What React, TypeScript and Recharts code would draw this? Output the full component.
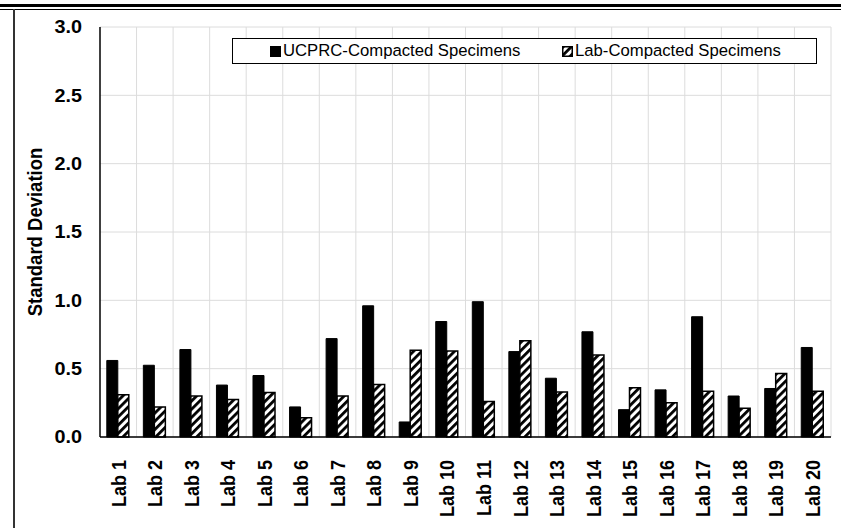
import React from 'react';
import { BarChart, Bar, XAxis, YAxis, CartesianGrid } from 'recharts';

const labs = ['Lab 1', 'Lab 2', 'Lab 3', 'Lab 4', 'Lab 5', 'Lab 6', 'Lab 7', 'Lab 8', 'Lab 9', 'Lab 10', 'Lab 11', 'Lab 12', 'Lab 13', 'Lab 14', 'Lab 15', 'Lab 16', 'Lab 17', 'Lab 18', 'Lab 19', 'Lab 20'];
const ucprcCompacted = [0.56, 0.525, 0.64, 0.38, 0.45, 0.22, 0.72, 0.96, 0.11, 0.845, 0.99, 0.625, 0.43, 0.77, 0.2, 0.345, 0.88, 0.3, 0.355, 0.655];
const labCompacted = [0.31, 0.22, 0.3, 0.275, 0.325, 0.14, 0.3, 0.385, 0.635, 0.63, 0.26, 0.705, 0.33, 0.6, 0.36, 0.25, 0.335, 0.21, 0.465, 0.335];
const yTicks = [0, 0.5, 1.0, 1.5, 2.0, 2.5, 3.0];
const seriesNames = ['UCPRC-Compacted Specimens', 'Lab-Compacted Specimens'];

const data = labs.map((lab, i) => ({ lab, ucprc: ucprcCompacted[i], lab2: labCompacted[i] }));

const FONT = '"Liberation Sans", Arial, Helvetica, sans-serif';

const XTick = (props: any) => {
  const { x, y, payload } = props;
  return (
    <text
      transform={`translate(${x},${y + 15}) rotate(-90) scale(1,1.12)`}
      textAnchor="end"
      dy="0.36em"
      fontFamily={FONT}
      fontWeight="bold"
      fontSize={18}
      fill="#000"
    >
      {payload.value}
    </text>
  );
};

const YTick = (props: any) => {
  const { x, y, payload } = props;
  return (
    <text
      transform={`translate(${x},${y}) scale(1.1,1)`}
      textAnchor="end"
      dy="0.36em"
      fontFamily={FONT}
      fontWeight="bold"
      fontSize={18}
      fill="#000"
    >
      {Number(payload.value).toFixed(1)}
    </text>
  );
};

const YLabel = (props: any) => {
  const { viewBox } = props;
  const cy = viewBox.y + viewBox.height / 2;
  return (
    <text
      transform={`translate(42,${cy}) rotate(-90) scale(1,1.08)`}
      textAnchor="middle"
      fontFamily={FONT}
      fontWeight="bold"
      fontSize={18.5}
      fill="#000"
    >
      Standard Deviation
    </text>
  );
};

export default function App() {
  return (
    <div style={{ position: 'absolute', left: 0, top: 0, width: 841, height: 528, background: '#fff', overflow: 'hidden' }}>
      <svg width={0} height={0} style={{ position: 'absolute' }}>
        <defs>
          <pattern id="hatch" patternUnits="userSpaceOnUse" width={5.8} height={5.8} patternTransform="rotate(45)">
            <rect x={0} y={0} width={5.8} height={5.8} fill="#fff" />
            <rect x={0} y={0} width={2.8} height={5.8} fill="#000" />
          </pattern>
        </defs>
      </svg>
      {/* document frame */}
      <div style={{ position: 'absolute', left: 0, top: 4, width: 841, height: 3, background: '#000' }} />
      <div style={{ position: 'absolute', left: 0, top: 9, width: 841, height: 1, background: '#000' }} />
      <div style={{ position: 'absolute', left: 13, top: 9, width: 1.5, height: 519, background: '#333' }} />
      <div style={{ position: 'absolute', left: 0, top: 0 }}>
        <BarChart
          width={841}
          height={528}
          data={data}
          margin={{ top: 27, right: 10, bottom: 0, left: 0 }}
          barCategoryGap="18.6%"
          barGap={0}
        >
          <CartesianGrid
            stroke="#dcdcdc"
            strokeWidth={1}
            verticalCoordinatesGenerator={({ offset }: any) =>
              labs.map((_, i) => offset.left + ((i + 1) * offset.width) / labs.length)
            }
          />
          <XAxis
            dataKey="lab"
            interval={0}
            height={91}
            tickLine={false}
            tick={<XTick />}
            axisLine={{ stroke: '#000', strokeWidth: 1.5 }}
          />
          <YAxis
            width={100}
            domain={[0, 3]}
            ticks={yTicks}
            tickLine={false}
            tickSize={0}
            tickMargin={18}
            axisLine={{ stroke: '#000', strokeWidth: 1.5 }}
            tick={<YTick />}
            label={<YLabel />}
          />
          <YAxis
            yAxisId="frame"
            orientation="right"
            width={0}
            tick={false}
            tickLine={false}
            axisLine={{ stroke: '#a6a6a6', strokeWidth: 1.5 }}
          />
          <Bar dataKey="ucprc" name={seriesNames[0]} fill="#000" stroke="#000" strokeWidth={1} isAnimationActive={false} />
          <Bar dataKey="lab2" name={seriesNames[1]} fill="url(#hatch)" stroke="#000" strokeWidth={1.5} isAnimationActive={false} />
        </BarChart>
      </div>
      {/* legend */}
      <div
        style={{
          position: 'absolute',
          left: 232,
          top: 38,
          width: 585,
          height: 26,
          border: '1px solid #000',
          background: '#fff',
          fontFamily: FONT,
          fontSize: 16.7,
          color: '#000',
          boxSizing: 'border-box',
        }}
      >
        <div style={{ position: 'absolute', left: 37, top: 0, height: 24, display: 'flex', alignItems: 'center' }}>
          <svg width={11} height={11} style={{ marginRight: 2 }}>
            <rect x={0} y={0} width={11} height={11} fill="#000" />
          </svg>
          <span>{seriesNames[0]}</span>
        </div>
        <div style={{ position: 'absolute', left: 329, top: 0, height: 24, display: 'flex', alignItems: 'center' }}>
          <svg width={11} height={11} style={{ marginRight: 2 }}>
            <rect x={0.75} y={0.75} width={9.5} height={9.5} fill="url(#hatch)" stroke="#000" strokeWidth={1.5} />
          </svg>
          <span>{seriesNames[1]}</span>
        </div>
      </div>
    </div>
  );
}
